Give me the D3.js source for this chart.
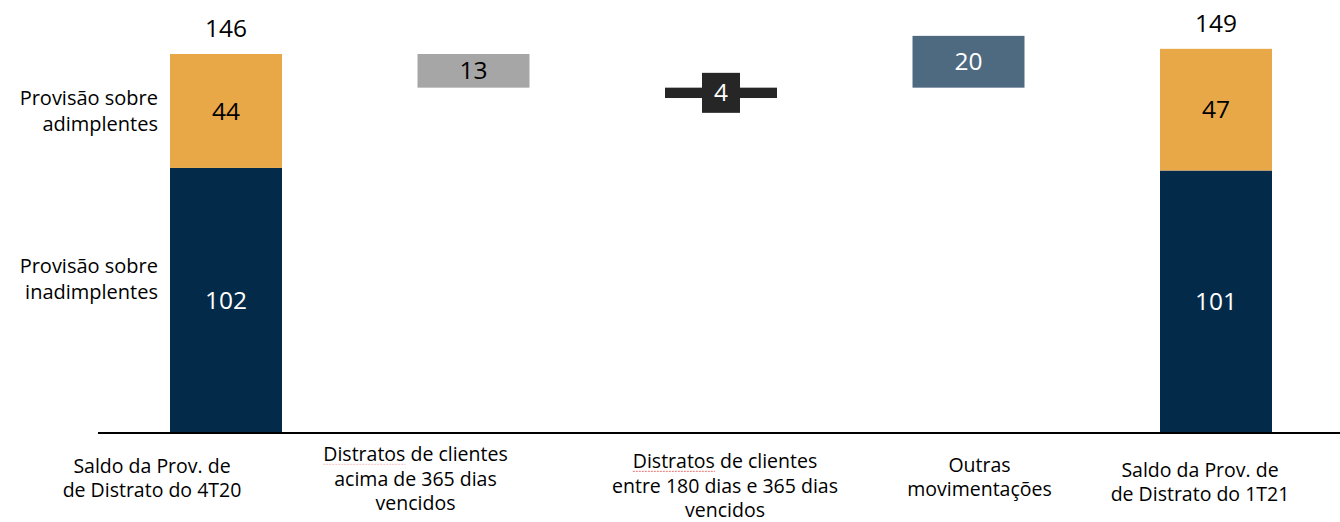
<!DOCTYPE html>
<html>
<head>
<meta charset="utf-8">
<script src="https://cdn.jsdelivr.net/npm/d3@7"></script>
<style>
  html, body { margin: 0; padding: 0; background: #fff; }
  svg { display: block; font-family: "Open Sans", Lato, sans-serif; }
</style>
</head>
<body>
<svg id="chart" width="1340" height="522"></svg>
<script>
// Categories (multi-line labels)
const categories = [
  ["Saldo da Prov. de", "de Distrato do 4T20"],
  ["Distratos de clientes", "acima de 365 dias", "vencidos"],
  ["Distratos de clientes", "entre 180 dias e 365 dias", "vencidos"],
  ["Outras", "movimentações"],
  ["Saldo da Prov. de", "de Distrato do 1T21"]
];
// Stacked balances (first and last columns)
const inadimplentes = [102, null, null, null, 101];
const adimplentes   = [44,  null, null, null, 47];
const totals        = [146, null, null, null, 149];
// Movements: value and the level they start from
const movements = [null, 13, 4, 20, null];
const movementBase = [null, 133, 129, 133, null];
const seriesNames = ["Provisão sobre adimplentes", "Provisão sobre inadimplentes"];

const W = 1340, H = 522;
const svg = d3.select("#chart");

const x = d3.scaleBand()
  .domain(d3.range(categories.length))
  .range([102.25, 1339.75])
  .paddingInner(0.5475)
  .paddingOuter(0.27375);

const y = d3.scaleLinear().domain([0, 146]).range([432, 54]);

const colors = {
  inad: "#032b49",
  adim: "#e8a847",
  movement: ["#a6a6a6", "#262626", "#4e6a80"]
};

const bw = x.bandwidth();
const numSize = 24.5;

// Stacked balance columns
[0, 4].forEach(i => {
  svg.append("rect")
    .attr("x", x(i)).attr("width", bw)
    .attr("y", y(inadimplentes[i])).attr("height", y(0) - y(inadimplentes[i]))
    .attr("fill", colors.inad);
  svg.append("rect")
    .attr("x", x(i)).attr("width", bw)
    .attr("y", y(inadimplentes[i] + adimplentes[i]))
    .attr("height", y(inadimplentes[i]) - y(inadimplentes[i] + adimplentes[i]))
    .attr("fill", colors.adim);

  const cx = x(i) + bw / 2;
  svg.append("text")
    .attr("x", cx).attr("y", (y(0) + y(inadimplentes[i])) / 2)
    .attr("dy", "0.35em").attr("text-anchor", "middle")
    .attr("font-size", numSize).attr("fill", "#fff")
    .text(inadimplentes[i]);
  svg.append("text")
    .attr("x", cx).attr("y", (y(inadimplentes[i]) + y(inadimplentes[i] + adimplentes[i])) / 2)
    .attr("dy", "0.35em").attr("text-anchor", "middle")
    .attr("font-size", numSize).attr("fill", "#000")
    .text(adimplentes[i]);
  svg.append("text")
    .attr("x", cx).attr("y", y(inadimplentes[i] + adimplentes[i]) - 17)
    .attr("text-anchor", "middle")
    .attr("font-size", numSize).attr("fill", "#000")
    .text(totals[i]);
});

// Movement bars
[1, 2, 3].forEach((i, k) => {
  const lo = movementBase[i], hi = movementBase[i] + movements[i];
  const cx = x(i) + bw / 2, cy = (y(lo) + y(hi)) / 2;
  svg.append("rect")
    .attr("x", x(i)).attr("width", bw)
    .attr("y", y(hi)).attr("height", y(lo) - y(hi))
    .attr("fill", colors.movement[k]);
  if (k === 1) {
    // small bar: value sits in a dark tag over it
    svg.append("rect")
      .attr("x", cx - 19).attr("y", cy - 20)
      .attr("width", 38).attr("height", 40)
      .attr("fill", colors.movement[k]);
  }
  svg.append("text")
    .attr("x", cx).attr("y", cy)
    .attr("dy", "0.35em").attr("text-anchor", "middle")
    .attr("font-size", numSize).attr("fill", k === 0 ? "#000" : "#fff")
    .text(movements[i]);
});

// Baseline
svg.append("line")
  .attr("x1", 98).attr("x2", W)
  .attr("y1", y(0) + 1).attr("y2", y(0) + 1)
  .attr("stroke", "#000").attr("stroke-width", 2);

// Category labels
const labelShift = [-74, -58, 4, 11, -16];
const labelMid = [478, 479, 486, 477, 482];
const lineH = 24.5;
categories.forEach((lines, i) => {
  const cx = x(i) + bw / 2 + labelShift[i];
  const t = svg.append("text")
    .attr("text-anchor", "middle")
    .attr("font-size", 19.5).attr("fill", "#000");
  lines.forEach((s, j) => {
    t.append("tspan")
      .attr("x", cx)
      .attr("y", labelMid[i] + (j - (lines.length - 1) / 2) * lineH)
      .attr("dy", "0.35em")
      .text(s);
  });
  // spell-check squiggle under "Distratos"
  if (lines[0].startsWith("Distratos")) {
    const first = t.select("tspan").node();
    const ext = first.getExtentOfChar(0);
    const end = first.getExtentOfChar(8);
    svg.append("line")
      .attr("x1", ext.x).attr("x2", end.x + end.width)
      .attr("y1", ext.y + ext.height - 3).attr("y2", ext.y + ext.height - 3)
      .attr("stroke", "#e05050").attr("stroke-width", 1)
      .attr("stroke-dasharray", "2,1").attr("opacity", i === 1 ? 0.35 : 0.8);
  }
});

// Series labels at the left
const seriesLines = [["Provisão sobre", "adimplentes"], ["Provisão sobre", "inadimplentes"]];
const seriesMid = [111, 279];
seriesLines.forEach((lines, i) => {
  const t = svg.append("text")
    .attr("text-anchor", "end")
    .attr("font-size", 20).attr("fill", "#000")
    .attr("aria-label", seriesNames[i]);
  lines.forEach((s, j) => {
    t.append("tspan")
      .attr("x", 158)
      .attr("y", seriesMid[i] + (j - 0.5) * 25.5)
      .attr("dy", "0.35em")
      .text(s);
  });
});
</script>
</body>
</html>
